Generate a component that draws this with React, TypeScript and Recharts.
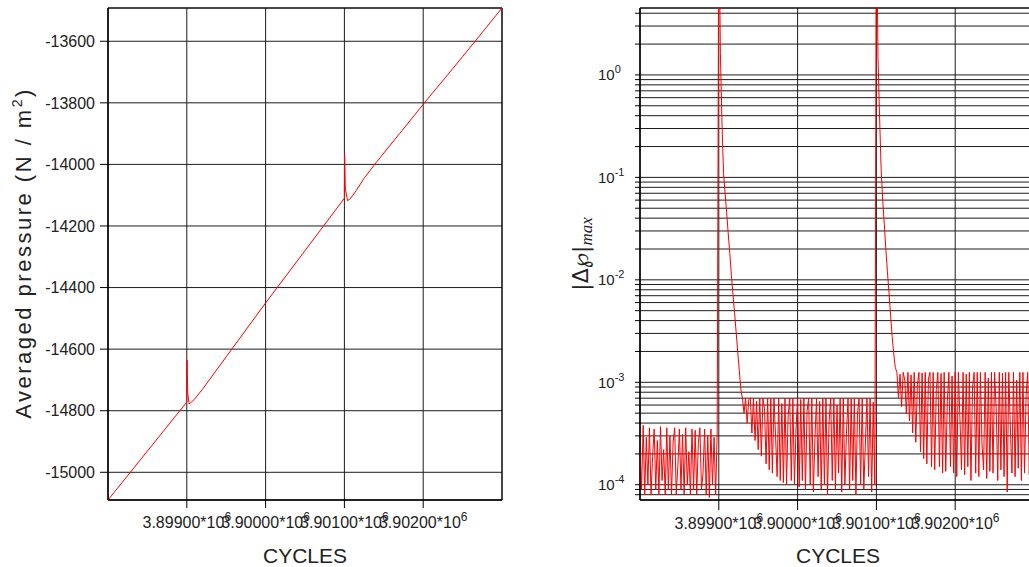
import React from 'react';
import { LineChart, Line, XAxis, YAxis, CartesianGrid, ReferenceArea } from 'recharts';

// Left panel: averaged pressure vs cycles
const pressureCycles = [
  3898000, 3899000, 3899003, 3899012, 3899030, 3899060, 3899100, 3899200, 3899500,
  3900000, 3900500, 3901000, 3901003, 3901012, 3901040, 3901080, 3901150, 3901250,
  3901400, 3901700, 3902000, 3902500, 3903000,
];
const pressureValues = [
  -15090, -14772, -14635, -14745, -14778, -14772, -14762, -14730, -14625,
  -14450, -14280, -14110, -13970, -14080, -14118, -14110, -14085, -14045,
  -13995, -13900, -13805, -13650, -13492,
];

const cycleTicks = [3899000, 3900000, 3901000, 3902000];
const pressureTicks = [-15000, -14800, -14600, -14400, -14200, -14000, -13800, -13600];

// Right panel: |dp|max, sampled every 20 cycles
const SAMPLE_STEP = 20;

// noise before first event, units of 1e-4
const noise1Start = 3898000;
const noise1 = [
  2.4, 0.9, 3.8, 0.8, 2.9, 1.0, 3.6, 0.8, 1.9, 3.5,
  0.9, 2.7, 0.8, 3.7, 1.1, 2.2, 0.8, 3.6, 0.9, 3.0,
  0.8, 2.6, 3.6, 0.8, 1.5, 3.5, 0.9, 3.1, 0.8, 3.6,
  1.0, 2.1, 0.8, 3.5, 0.9, 3.4, 0.8, 2.5, 3.6, 0.9,
  1.3, 3.5, 0.8, 3.0, 0.75, 3.5, 1.0, 2.9, 0.8, 3.4,
];

// first event decay, absolute
const spike1Start = 3899000;
const spike1 = [50, 1.65, 0.35, 0.11, 0.07, 0.045, 0.028, 0.018, 0.011, 0.0072, 0.0048, 0.0031, 0.002, 0.0013, 0.00085];

// noise between events, units of 1e-4
const noise2Start = 3899300;
const noise2 = [
  7.0, 5.0, 7.0, 4.0, 6.8, 7.0, 3.2, 7.0, 2.7, 6.5,
  2.2, 7.0, 1.9, 7.0, 5.5, 1.6, 7.0, 1.4, 6.9, 1.3,
  7.0, 3.0, 1.2, 7.0, 1.1, 6.2, 1.05, 7.0, 1.0, 4.8,
  7.0, 1.1, 7.0, 1.0, 3.5, 7.0, 0.95, 6.8, 1.1, 7.0,
  0.9, 5.2, 7.0, 1.0, 7.0, 0.85, 2.8, 7.0, 1.2, 6.5,
  0.9, 7.0, 1.0, 7.0, 0.8, 4.2, 7.0, 1.1, 7.0, 0.9,
  6.0, 1.3, 7.0, 0.85, 7.0, 1.0, 3.2, 7.0, 0.9, 6.9,
  1.1, 7.0, 0.8, 5.0, 7.0, 1.0, 7.0, 0.9, 2.5, 7.0,
  1.2, 7.0, 0.85, 6.4, 1.0,
];

// second event decay, absolute
const spike2Start = 3901000;
const spike2 = [50, 1.5, 0.4, 0.12, 0.06, 0.035, 0.02, 0.012, 0.0075, 0.0045, 0.0028, 0.0019, 0.0014];

// noise after second event, units of 1e-4
const noise3Start = 3901260;
const noise3 = [
  12.5, 7.0, 12.0, 5.8, 12.5, 10.5, 4.9, 12.5, 4.2, 11.8,
  3.2, 12.5, 2.6, 9.5, 12.5, 2.1, 12.3, 1.8, 12.5, 1.6,
  10.8, 12.5, 1.5, 12.5, 1.4, 8.5, 12.5, 1.5, 12.2, 1.3,
  12.5, 1.35, 6.5, 12.5, 1.5, 11.5, 1.3, 12.5, 1.2, 12.5,
  4.5, 1.4, 12.5, 1.25, 12.0, 1.5, 12.5, 1.1, 9.0, 12.5,
  1.3, 12.5, 1.2, 12.5, 2.5, 1.4, 12.5, 1.15, 11.0, 1.35,
  12.5, 1.3, 12.5, 5.5, 1.1, 12.5, 1.4, 12.3, 1.2, 12.5,
  0.85, 12.5, 3.5, 1.3, 12.5, 1.2, 10.5, 1.45, 12.5, 1.1,
  12.5, 1.3, 7.5, 12.5, 1.25, 12.5, 1.4, 12.0,
];

const decades = [-5, -4, -3, -2, -1, 0];
const mantissas = [1, 2, 3, 4, 5, 6, 7, 8, 9];

const X_DOMAIN: [number, number] = [3898000, 3903000];
const P_DOMAIN: [number, number] = [-15090, -13492];
const DP_DOMAIN: [number, number] = [7.1e-5, 4.5];

const pressureData = pressureCycles.map((c, i) => ({ cycle: c, p: pressureValues[i] }));

const toRows = (start: number, vals: number[], unit: number) =>
  vals.map((v, i) => ({ cycle: start + i * SAMPLE_STEP, dp: v * unit }));

const dpData = [
  ...toRows(noise1Start, noise1, 1e-4),
  ...toRows(spike1Start, spike1, 1),
  ...toRows(noise2Start, noise2, 1e-4),
  ...toRows(spike2Start, spike2, 1),
  ...toRows(noise3Start, noise3, 1e-4),
];

const logTicks = decades
  .flatMap((e) => mantissas.map((m) => m * Math.pow(10, e)))
  .filter((v) => v >= DP_DOMAIN[0] && v <= DP_DOMAIN[1]);

const FONT = '"Liberation Sans", Arial, sans-serif';
const GRID = '#1c1c1c';

const CycleTick = (props: any) => {
  const { x, y, payload, dy } = props;
  const mant = (payload.value / 1e6).toFixed(5);
  return (
    <text x={x} y={y + (dy ?? 18)} textAnchor="middle" fontFamily={FONT} fontSize={16} fill="#222">
      {mant}*10<tspan dy={-7} fontSize={12}>6</tspan>
    </text>
  );
};

const PowTick = (props: any) => {
  const { x, y, payload } = props;
  const e = Math.round(Math.log10(payload.value));
  const ratio = payload.value / Math.pow(10, e);
  if (Math.abs(ratio - 1) > 1e-6) return <g />;
  return (
    <text x={x - 35} y={y + 5.5} textAnchor="start" fontFamily={FONT} fontSize={15} fill="#222">
      10<tspan dy={-7} fontSize={11}>{e}</tspan>
    </text>
  );
};

const PressurePanel = () => (
  <div style={{ position: 'absolute', left: 0, top: 0, width: 520, height: 567 }}>
    <LineChart width={520} height={567} data={pressureData} margin={{ top: 8, right: 18, bottom: 27, left: 8 }}>
      <CartesianGrid stroke={GRID} strokeWidth={1} />
      <XAxis
        dataKey="cycle"
        type="number"
        domain={X_DOMAIN}
        ticks={cycleTicks}
        interval={0}
        allowDataOverflow
        height={40}
        tickSize={8}
        stroke="#000"
        tick={<CycleTick dy={18} />}
      />
      <YAxis
        dataKey="p"
        type="number"
        domain={P_DOMAIN}
        ticks={pressureTicks}
        interval={0}
        allowDataOverflow
        width={100}
        tickSize={8}
        tickMargin={5}
        stroke="#000"
        tick={{ fontFamily: FONT, fontSize: 16, fill: '#222' }}
      />
      <ReferenceArea x1={X_DOMAIN[0]} x2={X_DOMAIN[1]} y1={P_DOMAIN[0]} y2={P_DOMAIN[1]} fill="none" stroke="#000" strokeWidth={1} fillOpacity={0} />
      <Line type="linear" dataKey="p" stroke="#ff0000" strokeWidth={1} dot={false} isAnimationActive={false} />
    </LineChart>
    <svg width={520} height={567} style={{ position: 'absolute', left: 0, top: 0, pointerEvents: 'none' }}>
      <text x={305} y={563} textAnchor="middle" fontFamily={FONT} fontSize={21} fill="#222">CYCLES</text>
      <text
        transform="translate(31,253) rotate(-90)"
        textAnchor="middle"
        fontFamily={FONT}
        fontSize={22}
        letterSpacing={2.5}
        fill="#222"
      >
        Averaged pressure (N / m<tspan dy={-9} fontSize={14}>2</tspan><tspan dy={9}>)</tspan>
      </text>
    </svg>
  </div>
);

const ResidualPanel = () => (
  <div style={{ position: 'absolute', left: 530, top: 0, width: 520, height: 567 }}>
    <LineChart width={520} height={567} data={dpData} margin={{ top: 8, right: 16, bottom: 27, left: 10 }}>
      <CartesianGrid stroke={GRID} strokeWidth={1} />
      <XAxis
        dataKey="cycle"
        type="number"
        domain={X_DOMAIN}
        ticks={cycleTicks}
        interval={0}
        allowDataOverflow
        height={40}
        tickSize={10}
        stroke="#000"
        tick={<CycleTick dy={17} />}
      />
      <YAxis
        dataKey="dp"
        type="number"
        scale="log"
        domain={DP_DOMAIN}
        ticks={logTicks}
        interval={0}
        allowDataOverflow
        width={100}
        tickSize={5}
        stroke="#000"
        tick={<PowTick />}
      />
      <ReferenceArea x1={X_DOMAIN[0]} x2={X_DOMAIN[1]} y1={DP_DOMAIN[0]} y2={DP_DOMAIN[1]} fill="none" stroke="#000" strokeWidth={1} fillOpacity={0} />
      <Line type="linear" dataKey="dp" stroke="#ff0000" strokeWidth={1} dot={false} isAnimationActive={false} />
    </LineChart>
    <svg width={520} height={567} style={{ position: 'absolute', left: 0, top: 0, pointerEvents: 'none' }}>
      <text x={308} y={563} textAnchor="middle" fontFamily={FONT} fontSize={21} fill="#222">CYCLES</text>
      <text transform="translate(58,254) rotate(-90)" textAnchor="middle" fontFamily="DejaVu Sans" fontSize={22} fill="#222">
        |Δ<tspan fontFamily="DejaVu Sans" fontStyle="italic">℘</tspan>|<tspan dy={4} fontSize={17} fontStyle="italic" fontFamily='"Liberation Serif", serif'>max</tspan>
      </text>
    </svg>
  </div>
);

export default function App() {
  return (
    <div style={{ position: 'fixed', left: 0, top: 0, width: 1029, height: 567, overflow: 'hidden', background: '#fff' }}>
      <PressurePanel />
      <ResidualPanel />
    </div>
  );
}
